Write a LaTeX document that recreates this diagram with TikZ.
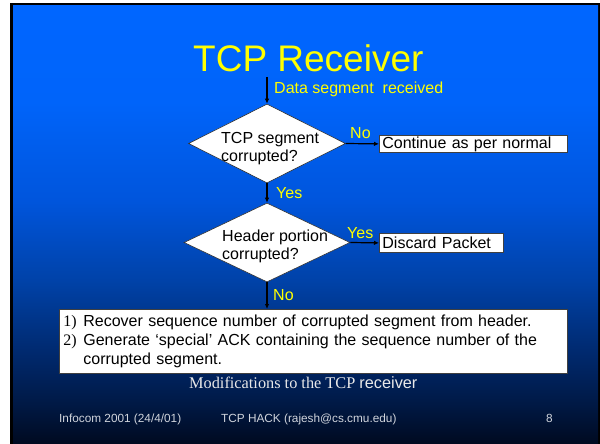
\documentclass[tikz,border=0pt]{standalone}
\usepackage{fontspec}
\setmainfont{Liberation Sans}
\newfontfamily\tms{Liberation Serif}
\usetikzlibrary{shapes.geometric,arrows.meta}
\definecolor{bgA}{HTML}{000A20}
\definecolor{bgB}{HTML}{001A48}
\definecolor{bgC}{HTML}{002A70}
\definecolor{bgD}{HTML}{0042A8}
\definecolor{bgE}{HTML}{0055DC}
\definecolor{bgF}{HTML}{0064FA}
\definecolor{bgG}{HTML}{0066FF}
\definecolor{ttlyellow}{HTML}{FFFF00}
\definecolor{footgray}{HTML}{D0D4DC}
\definecolor{capgray}{HTML}{E8E8E8}
\pgfdeclareverticalshading{slidebg}{100bp}{color(0bp)=(bgA); color(25bp)=(bgA); color(30bp)=(bgB); color(35.7bp)=(bgC); color(43.6bp)=(bgD); color(52.7bp)=(bgE); color(64bp)=(bgF); color(75bp)=(bgG); color(100bp)=(bgG)}
\begin{document}
\begin{tikzpicture}[x=1pt,y=-1pt,
  lbl/.style={text=ttlyellow, font=\fontsize{16}{18}\selectfont, inner sep=0, anchor=base west},
  dia/.style={diamond, draw=black!80, fill=white, line width=0.6pt, inner sep=0},
  dtxt/.style={font=\fontsize{16}{18}\selectfont, align=left, inner sep=0, anchor=base west, text=black},
  wbox/.style={draw=black!75, fill=white, line width=0.8pt, anchor=north west, inner sep=0, font=\fontsize{16}{18}\selectfont, text=black},
  flow/.style={-{Latex[length=5pt,width=4.5pt]}, line width=1.2pt, draw=black},
  foot/.style={text=footgray, font=\fontsize{11.8}{14}\selectfont, inner sep=0, anchor=base west}]
\useasboundingbox (0,0) rectangle (600,444);
\fill[white] (0,0) rectangle (600,444);
\fill[black] (10,3) rectangle (600,444);
\shade[shading=slidebg] (13,5.5) rectangle (598,444);

% title
\node[text=ttlyellow, font=\fontsize{37}{40}\selectfont, inner sep=0, anchor=base west] (title) at (193,71) {TCP Receiver};

% flow
\coordinate (start) at (267,77);
\node[lbl] (datalbl) at (274,93) {Data segment~ received};

\node[dia, minimum width=157pt, minimum height=79pt] (d1) at (267,143.5) {};
\node[dtxt] (d1txt) at (221,161) {TCP segment\\corrupted?};

\node[wbox, minimum width=188pt, minimum height=17pt, text width=182pt, inner xsep=3pt, align=left] (cont) at (379,135) {Continue as per normal};
\node[lbl] (no1) at (350,139) {No};

\node[lbl] (yes1) at (276,198) {Yes};

\node[dia, minimum width=166pt, minimum height=79pt] (d2) at (267,242.5) {};
\node[dtxt] (d2txt) at (222,259) {Header portion\\corrupted?};

\node[wbox, minimum width=124pt, minimum height=19pt, text width=118pt, inner xsep=3pt, align=left] (disc) at (379,233) {Discard Packet};
\node[lbl] (yes2) at (347,238) {Yes};

\node[lbl] (no2) at (273,300) {No};

\node[wbox, minimum width=508pt, minimum height=64pt, text width=500pt, inner xsep=4pt, inner ysep=2.7pt, align=left, font=\fontsize{16}{19}\selectfont] (big) at (59,309)
{\strut\makebox[20pt][l]{\tms 1)}Recover sequence number of corrupted segment from header.\\
\makebox[20pt][l]{\tms 2)}Generate ‘special’ ACK containing the sequence number of the\\
\hspace*{20pt}corrupted segment.\strut};

\draw[flow] (start) -- (d1.north);
\draw[flow] (d1.east) -- (cont.west);
\draw[flow] (d1.south) -- (d2.north);
\draw[flow] (d2.east) -- (disc.west);
\draw[flow] (d2.south) -- (d2.south |- big.north);

% caption
\node[text=capgray, font=\fontsize{16.3}{18}\selectfont, inner sep=0, anchor=base west] (cap) at (189,388) {{\tms Modifications to the TCP }receiver};

% footer
\node[foot] (f1) at (59,422) {Infocom 2001 (24/4/01)};
\node[foot] (f2) at (221,422) {TCP HACK (rajesh@cs.cmu.edu)};
\node[foot] (f3) at (546,422) {8};
\end{tikzpicture}
\end{document}
